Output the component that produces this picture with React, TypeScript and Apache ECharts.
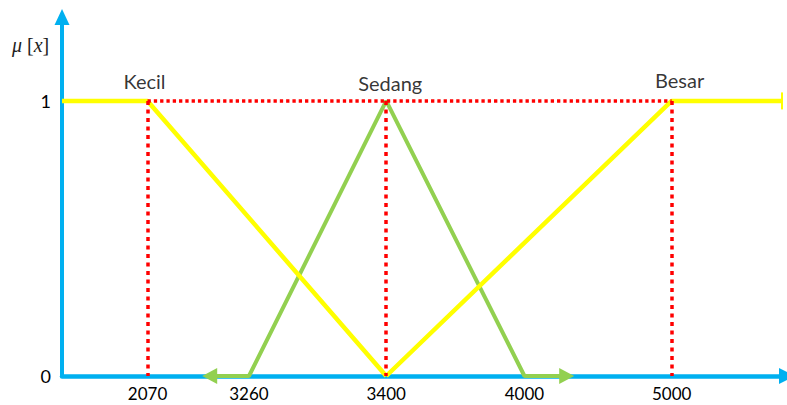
import React, { useEffect, useRef } from "react";
import * as echarts from "echarts";

// Fuzzy membership tick values on the (not-to-scale) horizontal axis
const xTicks = [2070, 3260, 3400, 4000, 5000];
// Schematic display slots of those ticks along the x axis (axis runs 0..X_MAX)
const xTickSlots = [86, 188, 326, 465, 613];
const X_MAX = 729;
const END_SLOT = 724;

const yTicks = [0, 1];

// Membership functions (x as tick value, "start"/"end" = open axis ends)
const kecilX: (number | string)[] = ["start", 2070, 3400];
const kecilY = [1, 1, 0];
const sedangX: (number | string)[] = [3260, 3400, 4000];
const sedangY = [0, 1, 0];
const besarX: (number | string)[] = [3400, 5000, "end"];
const besarY = [0, 1, 1];

const setNames = ["Kecil", "Sedang", "Besar"];
const setPeaks = [2070, 3400, 5000];

const slot = (v: number | string) =>
  v === "start" ? 0 : v === "end" ? END_SLOT : xTickSlots[xTicks.indexOf(v as number)];

const pts = (xs: (number | string)[], ys: number[]) => xs.map((x, i) => [slot(x), ys[i]]);

export default function App() {
  const ref = useRef<HTMLDivElement>(null);
  useEffect(() => {
    if (!ref.current) return;
    const chart = echarts.init(ref.current, null, { renderer: "svg" });
    const blue = "#00B0F0";
    const yellow = "#FFFF00";
    const green = "#92D050";
    const red = "#FF0000";
    const sed = pts(sedangX, sedangY);
    const leftArrow = [sed[0][0] - 39.5, 0];
    const rightArrow = [sed[sed.length - 1][0] + 42.5, 0];
    const bes = pts(besarX, besarY);
    const labelOffsets = [[-3, 0], [4, 2], [8, -1]];

    chart.setOption({
      animation: false,
      grid: { left: 62, right: -4, top: 17, bottom: 29 },
      xAxis: {
        type: "value",
        min: 0,
        max: X_MAX,
        axisLine: {
          show: true,
          symbol: ["none", "triangle"],
          symbolSize: [16, 16],
          lineStyle: { color: blue, width: 4.5 },
        },
        axisTick: { show: false },
        splitLine: { show: false },
        axisLabel: {
          customValues: xTickSlots,
          formatter: (v: number) => {
            const i = xTickSlots.indexOf(v);
            return i >= 0 ? String(xTicks[i]) : "";
          },
          fontFamily: "Lato",
          fontSize: 17,
          color: "#000",
          margin: 9,
        },
      },
      yAxis: {
        type: "value",
        min: 0,
        max: 1.305,
        axisLine: {
          show: true,
          symbol: ["none", "triangle"],
          symbolSize: [15, 16],
          lineStyle: { color: blue, width: 4 },
        },
        axisTick: { show: false },
        splitLine: { show: false },
        axisLabel: {
          customValues: yTicks,
          fontFamily: "Lato",
          fontSize: 18,
          color: "#000",
          margin: 11,
          padding: [6, 0, 0, 0],
        },
      },
      graphic: [
        {
          type: "text",
          left: 12,
          top: 35,
          style: {
            text: "{i|μ} [{i|x}]",
            fontFamily: "Liberation Serif",
            fontSize: 20,
            fill: "#222",
            rich: {
              i: { fontFamily: "Liberation Serif", fontStyle: "italic", fontSize: 20, fill: "#222" },
            },
          },
        },
      ],
      series: [
        {
          type: "line",
          name: "Sedang",
          z: 2,
          symbol: "none",
          showSymbol: true,
          lineStyle: { color: green, width: 4 },
          itemStyle: { color: green },
          data: [
            { value: leftArrow, symbol: "triangle", symbolSize: [16, 15], symbolRotate: 90 },
            ...sed.map((p) => ({ value: p, symbol: "none" })),
            { value: rightArrow, symbol: "triangle", symbolSize: [16, 15], symbolRotate: -90 },
          ],
        },
        {
          type: "line",
          name: "Kecil",
          z: 3,
          symbol: "none",
          lineStyle: { color: yellow, width: 4.5 },
          data: pts(kecilX, kecilY),
        },
        {
          type: "line",
          name: "Besar",
          z: 3,
          symbol: "none",
          showSymbol: true,
          lineStyle: { color: yellow, width: 4.5 },
          itemStyle: { color: yellow },
          data: bes.map((p, i) =>
            i === bes.length - 1
              ? { value: p, symbol: "rect", symbolSize: [2, 17] }
              : { value: p, symbol: "none" }
          ),
        },
        {
          type: "line",
          name: "guides",
          z: 5,
          symbol: "none",
          data: [],
          markLine: {
            silent: true,
            symbol: ["none", "none"],
            label: { show: false },
            lineStyle: { color: red, width: 3.5, type: [3.3, 3], opacity: 1 },
            data: [
              [{ coord: [slot(2070), 1] }, { coord: [slot(5000), 1] }],
              ...[2070, 3400, 5000].map((v) => [
                { coord: [slot(v), 1], lineStyle: { type: [4, 4.5], color: red, width: 3.5 } },
                { coord: [slot(v), 0] },
              ]),
            ],
          },
        },
        {
          type: "scatter",
          name: "names",
          z: 6,
          symbol: "circle",
          symbolSize: 0.1,
          itemStyle: { color: "transparent" },
          data: setNames.map((n, i) => ({
            value: [slot(setPeaks[i]), 1],
            label: {
              show: true,
              formatter: n,
              position: "top",
              distance: 10,
              offset: labelOffsets[i],
              fontFamily: "Lato",
              fontSize: 20,
              color: "#000",
            },
          })),
        },
      ],
    });
    return () => chart.dispose();
  }, []);
  return (
    <div
      ref={ref}
      style={{ position: "absolute", left: 0, top: 0, width: 787, height: 405 }}
    />
  );
}
